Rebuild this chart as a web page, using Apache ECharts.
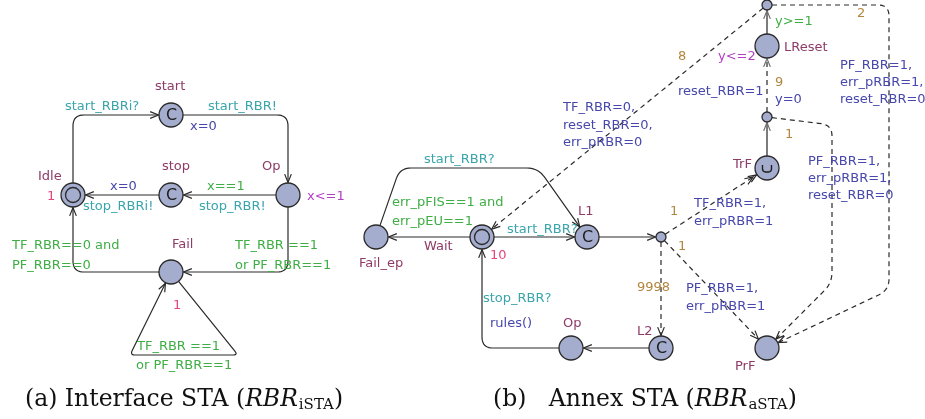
<!DOCTYPE html>
<html><head><meta charset="utf-8">
<script src="https://cdn.jsdelivr.net/npm/echarts@6/dist/echarts.min.js"></script>
<style>html,body{margin:0;padding:0;background:#fff}#c{width:925px;height:419px}</style>
</head><body><div id="c"></div>
<script>
// ---- locations (nodes) ----
const nodeIds   = ['start','idle','stop','op','fail','failep','wait','l1','b1','l2','op2','prf','trf','b2','lreset','b3'];
const nodeX     = [171, 73, 171, 288, 171, 376, 482, 587, 661, 661, 571, 767, 767, 767, 767, 767];
const nodeY     = [115, 195, 195, 195, 272, 237, 237, 237, 237, 348, 348, 348, 168, 117, 46, 5];
const nodeKind  = ['C','init','C','n','n','n','init','C','b','C','n','n','U','b','n','b'];

// ---- edges ----
const edgeFrom  = ['idle','start','op','stop','op','fail','fail','wait','failep','wait','l1','b1','b1','b1','l2','op2','trf','b2','lreset','b3','b3','b2'];
const edgeTo    = ['start','op','stop','idle','fail','idle','fail','failep','l1','l1','b1','trf','prf','l2','op2','wait','b2','lreset','b3','wait','prf','prf'];
const edgeVia   = [[[73,115]],[[288,115]],[],[],[[288,272]],[[73,272]],[[238,355],[130,355]],[],[[400,168],[538,168]],[],[],[],[],[],[],[[482,348]],[],[],[],[],[[889,5],[889,290]],[[832,125],[832,283]]];
const edgeDash  = [0,0,0,0,0,0,0,0,0,0,0,1,1,1,0,0,0,1,0,1,1,1];
const edgeGray  = [0,0,0,0,0,0,0,0,0,0,0,0,0,0,0,0,1,1,1,0,0,0];
const edgeDouble= [0,0,0,0,0,0,0,0,0,0,0,1,0,0,0,0,0,0,0,0,0,0];

// ---- texts: [text, left x, center y] ----
const nameLabels = [
  ['start',155,87],['stop',162,167],['Op',262,167],['Idle',38,177],['Fail',172,245],
  ['L1',578,212],['Wait',424,247],['Fail_ep',359,264],['Op',563,324],['L2',637,332],
  ['PrF',735,367],['TrF',733,165],['LReset',784,48]
];
const syncLabels = [
  ['start_RBRi?',65,107],['start_RBR!',208,107],['stop_RBRi!',83,207],['stop_RBR!',199,207],
  ['start_RBR?',424,160],['start_RBR?',507,230],['stop_RBR?',483,299]
];
const updateLabels = [
  ['x=0',190,127],['x=0',110,187],
  ['TF_RBR=0,',563,108],['reset_RBR=0,',563,126],['err_pRBR=0',563,143],
  ['rules()',490,324],['PF_RBR=1,',686,289],['err_pRBR=1',686,307],
  ['TF_RBR=1,',694,204],['err_pRBR=1',694,222],
  ['PF_RBR=1,',808,162],['err_pRBR=1,',808,179],['reset_RBR=0',808,196],
  ['y=0',775,100],['reset_RBR=1',678,92],
  ['PF_RBR=1,',840,66],['err_pRBR=1,',840,83],['reset_RBR=0',840,100]
];
const guardLabels = [
  ['x==1',207,187],['TF_RBR==0 and',12,246],['PF_RBR==0',12,266],
  ['TF_RBR ==1',235,246],['or PF_RBR==1',235,266],['TF_RBR ==1',137,347],['or PF_RBR==1',136,366],
  ['err_pFIS==1 and',392,203],['err_pEU==1',392,222],['y>=1',775,22]
];
const invariantLabels = [['x<=1',307,197],['y<=2',718,57]];
const rateLabels = [['1',47,197],['1',173,306],['10',490,256]];
const probLabels = [['9998',637,288],['1',678,247],['1',670,212],['1',785,135],['9',775,83],['8',678,57],['2',857,14]];
const captions = [
  {x:25, y:400, parts:['(a) Interface STA (','RBR','iSTA',')']},
  {x:493, y:400, parts:['(b)   Annex STA (','RBR','aSTA',')']}
];

const roleColor = {name:'#8e3b67', sync:'#3aa5ab', update:'#4747ad', guard:'#3fae45', inv:'#b23fc4', rate:'#e8437b', prob:'#b3863f'};
const labelFont = '13px "DejaVu Sans"';
const allLabels = [].concat(
  nameLabels.map(l=>l.concat('name')), syncLabels.map(l=>l.concat('sync')),
  updateLabels.map(l=>l.concat('update')), guardLabels.map(l=>l.concat('guard')),
  invariantLabels.map(l=>l.concat('inv')), rateLabels.map(l=>l.concat('rate')),
  probLabels.map(l=>l.concat('prob')));

const nodeIndex = {}; nodeIds.forEach((id,i)=>nodeIndex[id]=i);
function nodeR(i){ return nodeKind[i]==='b' ? 5 : 12; }
function offset(c, toward, r){ const dx=toward[0]-c[0], dy=toward[1]-c[1]; const L=Math.hypot(dx,dy)||1; return [c[0]+dx/L*r, c[1]+dy/L*r]; }
function roundPts(pts, rad){
  const out=[pts[0]];
  for(let k=1;k<pts.length-1;k++){
    const p=pts[k-1], c=pts[k], n=pts[k+1];
    const l1=Math.hypot(c[0]-p[0],c[1]-p[1]), l2=Math.hypot(n[0]-c[0],n[1]-c[1]);
    const rr=Math.min(rad,l1/2,l2/2);
    const a=[c[0]+(p[0]-c[0])/l1*rr, c[1]+(p[1]-c[1])/l1*rr];
    const b=[c[0]+(n[0]-c[0])/l2*rr, c[1]+(n[1]-c[1])/l2*rr];
    for(let s=0;s<=10;s++){const t=s/10, u=1-t;
      out.push([u*u*a[0]+2*u*t*c[0]+t*t*b[0], u*u*a[1]+2*u*t*c[1]+t*t*b[1]]);}
  }
  out.push(pts[pts.length-1]);
  return out;
}
function arrowHead(tip, from, len, ang){
  const dx=from[0]-tip[0], dy=from[1]-tip[1]; const L=Math.hypot(dx,dy)||1; const ux=dx/L, uy=dy/L;
  const c=Math.cos(ang), s=Math.sin(ang);
  return [[tip[0]+len*(ux*c-uy*s), tip[1]+len*(ux*s+uy*c)], tip, [tip[0]+len*(ux*c+uy*s), tip[1]+len*(-ux*s+uy*c)]];
}

function renderEdge(params, api){
  const i=params.dataIndex;
  const a=nodeIndex[edgeFrom[i]], b=nodeIndex[edgeTo[i]];
  const pa=api.coord([nodeX[a],nodeY[a]]), pb=api.coord([nodeX[b],nodeY[b]]);
  const via=edgeVia[i].map(p=>api.coord(p));
  const first=via.length?via[0]:pb, last=via.length?via[via.length-1]:pa;
  const s=offset(pa,first,nodeR(a)), e=offset(pb,last,nodeR(b)+0.5);
  const pts=roundPts([s].concat(via,[e]), edgeFrom[i]==='fail'&&edgeTo[i]==='fail'?5:11);
  const col=edgeGray[i]?'#6e6e6e':'#2a2a2a';
  const lw=edgeGray[i]?1.8:1.2;
  const children=[{type:'polyline',shape:{points:pts},style:{stroke:col,lineWidth:lw,fill:null,lineDash:edgeDash[i]?[5,4]:null}}];
  const prev=pts[pts.length-2];
  children.push({type:'polyline',shape:{points:arrowHead(e,prev,9,0.38)},style:{stroke:col,lineWidth:1.2,fill:null}});
  if(edgeDouble[i]){
    const t2=offset(e,prev,4);
    children.push({type:'polyline',shape:{points:arrowHead(t2,prev,9,0.38)},style:{stroke:col,lineWidth:1.2,fill:null}});
  }
  return {type:'group',children};
}
function renderNode(params, api){
  const i=params.dataIndex;
  const p=api.coord([nodeX[i],nodeY[i]]);
  const r=nodeR(i);
  const ch=[{type:'circle',shape:{cx:p[0],cy:p[1],r:r},style:{fill:'#a5adcf',stroke:'#2a2a2a',lineWidth:1.3}}];
  if(nodeKind[i]==='init') ch.push({type:'circle',shape:{cx:p[0],cy:p[1],r:7.5},style:{fill:null,stroke:'#2a2a2a',lineWidth:1.3}});
  if(nodeKind[i]==='C') ch.push({type:'text',x:p[0]+0.5,y:p[1]+0.5,style:{text:'C',fill:'#1e1e1e',font:'16px "DejaVu Sans"',align:'center',verticalAlign:'middle'}});
  if(nodeKind[i]==='U') ch.push({type:'polyline',shape:{points:roundPts([[p[0]-4.5,p[1]-3],[p[0]-4.5,p[1]+4],[p[0]+4.5,p[1]+4],[p[0]+4.5,p[1]-3]],4)},style:{stroke:'#1e1e1e',lineWidth:1.4,fill:null}});
  return {type:'group',children:ch};
}
function renderLabel(params, api){
  const l=allLabels[params.dataIndex];
  const p=api.coord([l[1],l[2]]);
  return {type:'text',x:p[0],y:p[1],style:{text:l[0],fill:roleColor[l[3]],font:labelFont,align:'left',verticalAlign:'middle'}};
}
const measureCtx=document.createElement('canvas').getContext('2d');
function tw(txt,font){measureCtx.font=font;return measureCtx.measureText(txt).width;}
const capFont='23.5px "DejaVu Serif"', capIt='italic 23.5px "DejaVu Serif"', capSub='15px "DejaVu Serif"';
function renderCaption(params, api){
  const c=captions[params.dataIndex];
  const p=api.coord([c.x,c.y]);
  let x=p[0]; const ch=[];
  const fonts=[capFont,capIt,capSub,capFont], dy=[0,0,5,0];
  c.parts.forEach((t,k)=>{
    ch.push({type:'text',x:x,y:p[1]+dy[k],style:{text:t,fill:'#111',font:fonts[k],align:'left',verticalAlign:'middle'}});
    x+=tw(t,fonts[k])+(k===1?1:0);
  });
  return {type:'group',children:ch};
}

const chart=echarts.init(document.getElementById('c'));
chart.setOption({
  animation:false,
  grid:{left:0,right:0,top:0,bottom:0},
  xAxis:{type:'value',min:0,max:925,show:false},
  yAxis:{type:'value',min:0,max:419,inverse:true,show:false},
  series:[
    {type:'custom',clip:false,renderItem:renderEdge,data:edgeFrom.map((_,i)=>[nodeX[nodeIndex[edgeFrom[i]]],nodeY[nodeIndex[edgeFrom[i]]]])},
    {type:'custom',clip:false,renderItem:renderNode,data:nodeIds.map((_,i)=>[nodeX[i],nodeY[i]])},
    {type:'custom',clip:false,renderItem:renderLabel,data:allLabels.map(l=>[l[1],l[2]])},
    {type:'custom',clip:false,renderItem:renderCaption,data:captions.map(c=>[c.x,c.y])}
  ]
});
</script></body></html>
